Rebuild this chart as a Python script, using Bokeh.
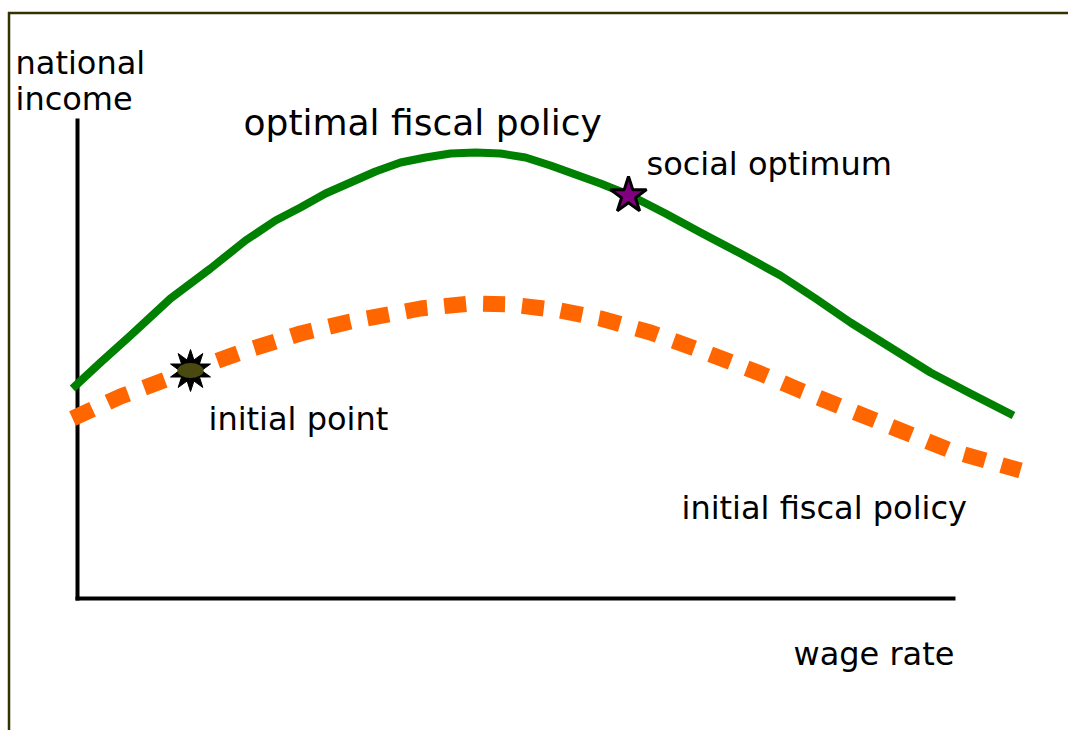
from bokeh.plotting import figure
from bokeh.models import Range1d, ColumnDataSource
from bokeh.core.properties import value
from bokeh.embed import file_html
from bokeh.resources import INLINE

# Optimal fiscal policy curve (wage rate, national income)
opt_wage = [-5, 23, 53, 93, 133, 168, 198, 223, 248, 273, 298, 323, 348, 373, 398, 423,
            448, 473, 498, 523, 553, 588, 623, 663, 703, 738, 773, 813, 853, 893, 936]
opt_income = [210, 236, 263, 300, 330, 358, 378, 391, 405, 416, 427, 436, 441, 445, 446, 445,
              441, 433, 424, 415, 403, 385, 366, 345, 323, 300, 276, 251, 226, 205, 183]

# Initial fiscal policy curve
init_wage = [-5, 43, 113, 163, 223, 273, 343, 393, 433, 483, 523, 573, 623, 683, 723, 773, 823, 873, 943]
init_income = [180, 202, 228, 246, 265, 277, 290, 295, 294, 288, 280, 266, 248, 225, 208, 188, 168, 148, 128]

# Points
social_opt = (551, 403)
initial_pt = (113, 228)

# Axes extents
x_axis_end = 878
y_axis_top = 480

# Labels
label_text = ["national", "income", "social optimum", "initial point",
              "initial fiscal policy", "wage rate"]
label_x = [-62, -62, 569, 131, 604, 716]
label_y = [536, 500, 435, 180, 91, -55]
title_text = ["optimal fiscal policy"]
title_x = [166]
title_y = [476]

W, H = 1068, 730
X0, Y0 = -77, 598
p = figure(width=W, height=H, output_backend="svg", toolbar_location=None,
           x_range=Range1d(X0, X0 + W), y_range=Range1d(Y0 - H, Y0),
           min_border=0, outline_line_color=None)
p.axis.visible = False
p.grid.visible = False
p.background_fill_color = "white"

# frame border
p.segment(x0=[-68.5], y0=[Y0 - H], x1=[-68.5], y1=[586.5], line_color="#333300", line_width=2.5)
p.segment(x0=[-69.5], y0=[585.5], x1=[X0 + W], y1=[585.5], line_color="#333300", line_width=2.5)

# axes
p.segment(x0=[0], y0=[-2], x1=[0], y1=[y_axis_top], line_color="black", line_width=4)
p.segment(x0=[-2], y0=[0], x1=[x_axis_end], y1=[0], line_color="black", line_width=4)

# curves
p.line(init_wage, init_income, line_color="#ff6600", line_width=16,
       line_dash="22 17", line_cap="butt", line_join="round")
p.line(opt_wage, opt_income, line_color="#008000", line_width=8, line_join="round")

# social optimum star
p.scatter([social_opt[0]], [social_opt[1]], marker="star", size=38,
          fill_color="#800080", line_color="black", line_width=3)

# initial point burst
p.scatter([initial_pt[0]] * 2, [initial_pt[1]] * 2, marker="star", size=[42, 42],
          angle=[0, 0.63], fill_color="black", line_color="black", line_width=1)
p.ellipse([initial_pt[0]], [initial_pt[1]], width=26, height=15,
          width_units="screen", height_units="screen",
          fill_color="#4a4a10", line_color=None)

src = ColumnDataSource(dict(x=label_x, y=label_y, t=label_text))
p.text(x="x", y="y", text="t", source=src, text_font=value("DejaVu Sans"),
       text_font_size="32px", text_color="black", text_align="left",
       text_baseline="alphabetic")
p.text(x=title_x, y=title_y, text=title_text, text_font=value("DejaVu Sans"),
       text_font_size="36px", text_color="black", text_align="left",
       text_baseline="alphabetic")

open("out.html", "w").write(file_html(p, INLINE))
